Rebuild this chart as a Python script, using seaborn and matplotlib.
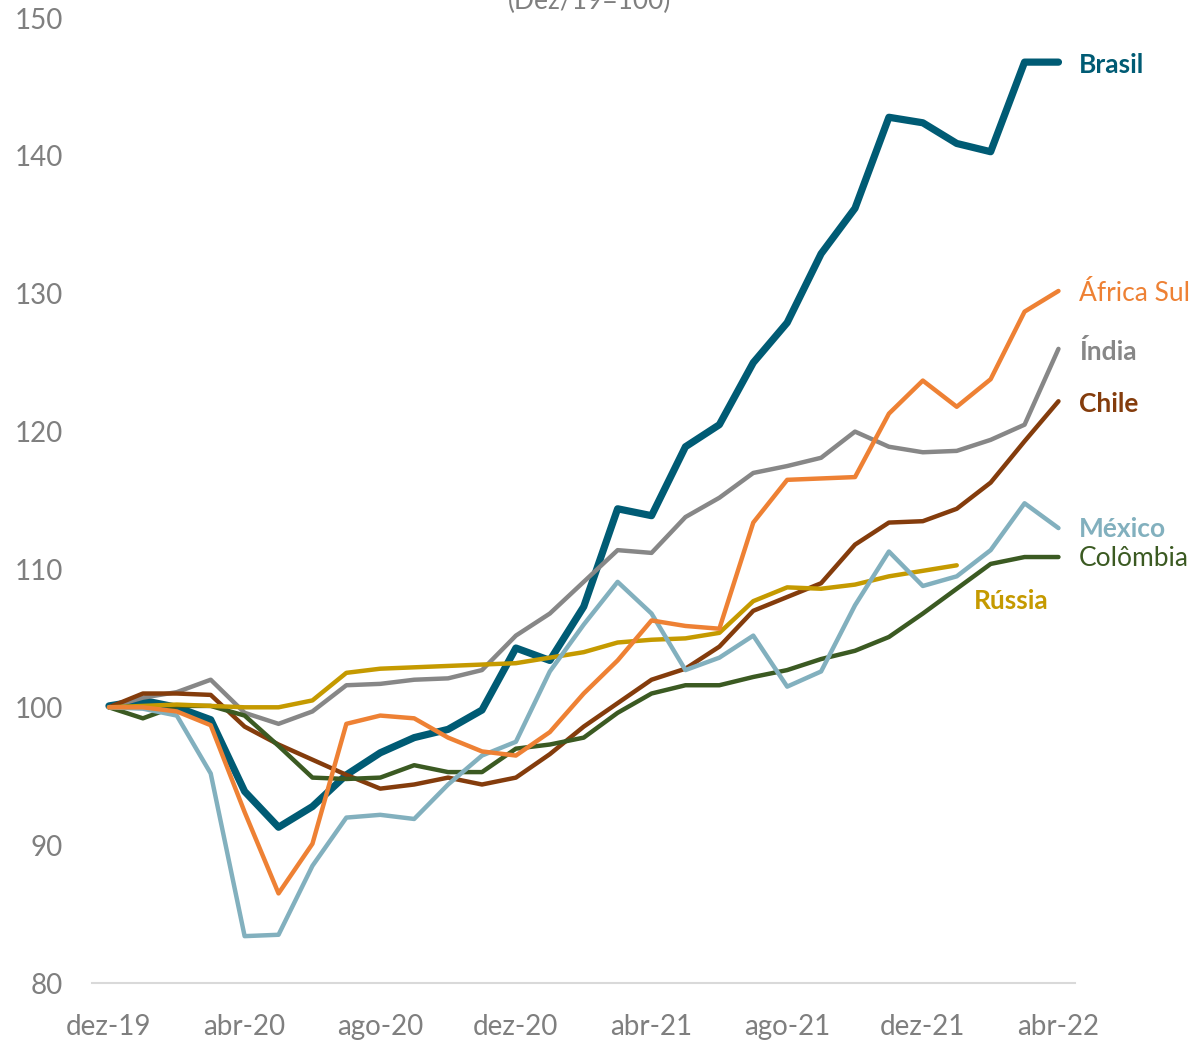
import numpy as np
import pandas as pd
import matplotlib.pyplot as plt
import seaborn as sns

months = ['dez-19', 'jan-20', 'fev-20', 'mar-20', 'abr-20', 'mai-20', 'jun-20', 'jul-20',
          'ago-20', 'set-20', 'out-20', 'nov-20', 'dez-20', 'jan-21', 'fev-21', 'mar-21',
          'abr-21', 'mai-21', 'jun-21', 'jul-21', 'ago-21', 'set-21', 'out-21', 'nov-21',
          'dez-21', 'jan-22', 'fev-22', 'mar-22', 'abr-22']

brasil = [100.1, 100.5, 100.0, 99.1, 93.9, 91.3, 92.8, 95.1, 96.7, 97.8, 98.4, 99.8, 104.3,
          103.4, 107.3, 114.4, 113.9, 118.9, 120.5, 125.0, 127.9, 132.9, 136.2, 142.8, 142.4,
          140.9, 140.3, 146.8, 146.8]
africa_sul = [100.0, 100.0, 99.7, 98.7, 92.4, 86.5, 90.1, 98.8, 99.4, 99.2, 97.8, 96.8, 96.5,
              98.2, 101.0, 103.4, 106.3, 105.9, 105.7, 113.4, 116.5, 116.6, 116.7, 121.3, 123.7,
              121.8, 123.8, 128.7, 130.2]
india = [100.0, 100.7, 101.1, 102.0, 99.6, 98.8, 99.7, 101.6, 101.7, 102.0, 102.1, 102.7, 105.2,
         106.8, 109.1, 111.4, 111.2, 113.8, 115.2, 117.0, 117.5, 118.1, 120.0, 118.9, 118.5,
         118.6, 119.4, 120.5, 126.0]
chile = [100.0, 101.0, 101.0, 100.9, 98.6, 97.3, 96.2, 95.1, 94.1, 94.4, 94.9, 94.4, 94.9,
         96.6, 98.6, 100.3, 102.0, 102.8, 104.4, 107.0, 108.0, 109.0, 111.8, 113.4, 113.5,
         114.4, 116.3, 119.3, 122.2]
mexico = [100.0, 99.9, 99.4, 95.2, 83.4, 83.5, 88.5, 92.0, 92.2, 91.9, 94.4, 96.5, 97.5,
          102.6, 106.0, 109.1, 106.8, 102.7, 103.6, 105.2, 101.5, 102.6, 107.4, 111.3, 108.8,
          109.5, 111.4, 114.8, 113.0]
colombia = [100.0, 99.2, 100.1, 100.1, 99.4, 97.2, 94.9, 94.8, 94.9, 95.8, 95.3, 95.3, 97.0,
            97.3, 97.8, 99.6, 101.0, 101.6, 101.6, 102.2, 102.7, 103.5, 104.1, 105.1, 106.8,
            108.6, 110.4, 110.9, 110.9]
russia = [100.0, 100.1, 100.2, 100.1, 100.0, 100.0, 100.5, 102.5, 102.8, 102.9, 103.0, 103.1,
          103.2, 103.6, 104.0, 104.7, 104.9, 105.0, 105.4, 107.7, 108.7, 108.6, 108.9, 109.5,
          109.9, 110.3]

series = [
    # name, values, color, width, label y, label x, bold
    ('Brasil', brasil, '#005b74', 5.2, 146.6, 28.6, True),
    ('Índia', india, '#878787', 3.2, 125.8, 28.6, True),
    ('Chile', chile, '#843c0c', 3.2, 122.0, 28.6, True),
    ('Colômbia', colombia, '#3b5a22', 3.2, 110.8, 28.6, False),
    ('Rússia', russia, '#c59a00', 3.2, 107.7, 25.5, True),
    ('México', mexico, '#82b0be', 3.2, 112.9, 28.6, True),
    ('África Sul', africa_sul, '#ee8134', 3.2, 130.0, 28.6, False),
]

sns.set_style('white')
plt.rcParams['font.family'] = ['Lato', 'DejaVu Sans']

fig = plt.figure(figsize=(11.92, 10.41), dpi=100)
ax = fig.add_axes([0.0772, 0.0557, 0.8250, 0.9270])

for name, vals, color, lw, ly, lx, bold in series:
    df = pd.DataFrame({'x': np.arange(len(vals)), 'y': vals})
    sns.lineplot(data=df, x='x', y='y', color=color, linewidth=lw, ax=ax,
                 solid_capstyle='round', solid_joinstyle='round')
    ax.text(lx, ly, name, color=color, fontsize=19,
            fontweight='bold' if bold else 'normal', va='center', ha='left',
            clip_on=False)

ax.set_xlim(-0.5, len(months) - 0.5)
ax.set_ylim(80, 150)
ax.set_yticks(range(80, 151, 10))
ax.set_xticks(range(0, len(months), 4))
ax.set_xticklabels(months[::4])
ax.set_xticks(np.arange(-0.5, len(months), 4), minor=True)
ax.tick_params(axis='x', which='major', length=0, pad=22, labelsize=20, labelcolor='#7f7f7f')
ax.tick_params(axis='x', which='minor', length=9, width=1.3, color='#d9d9d9')
ax.tick_params(axis='y', length=0, pad=21, labelsize=20, labelcolor='#7f7f7f')
ax.set_xlabel('')
ax.set_ylabel('')

for s in ['top', 'right', 'left']:
    ax.spines[s].set_visible(False)
ax.spines['bottom'].set_color('#d9d9d9')
ax.spines['bottom'].set_linewidth(1.5)

# subtitle sits half outside the top edge, as in the source
fig.text(0.495, 0.999, '(Dez/19=100)', ha='center', va='center', fontsize=19, color='#7f7f7f')

fig.savefig('out.png', dpi=100)
plt.close(fig)
